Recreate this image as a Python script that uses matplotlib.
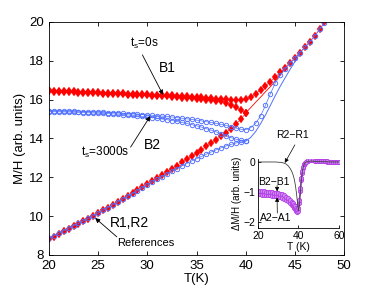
import numpy as np
import matplotlib
matplotlib.use('Agg')
import matplotlib.pyplot as plt

plt.rcParams['font.family'] = ['Liberation Sans', 'DejaVu Sans']
plt.rcParams['mathtext.fontset'] = 'custom'
plt.rcParams['mathtext.rm'] = 'Liberation Sans'
plt.rcParams['mathtext.it'] = 'Liberation Sans'

# ---- main panel data (T in K, M/H in arb. units) ----
T_full = np.arange(20, 48.01, 0.5)
T_low = np.arange(20, 40.01, 0.5)

red_fc = [16.47, 16.46, 16.45, 16.44, 16.43, 16.42, 16.41, 16.40, 16.39, 16.38,
          16.37, 16.36, 16.35, 16.34, 16.33, 16.32, 16.31, 16.30, 16.29, 16.28,
          16.27, 16.26, 16.25, 16.24, 16.23, 16.21, 16.20, 16.18, 16.17, 16.15,
          16.13, 16.11, 16.09, 16.07, 16.05, 16.03, 16.01, 15.99, 15.98, 15.98,
          16.02, 16.12, 16.30, 16.50, 16.70, 16.92, 17.15, 17.40, 17.65, 17.90,
          18.15, 18.42, 18.70, 18.98, 19.28, 19.62, 19.97]
red_b1 = [16.42, 16.41, 16.40, 16.39, 16.38, 16.37, 16.36, 16.35, 16.34, 16.33,
          16.32, 16.31, 16.30, 16.29, 16.28, 16.27, 16.26, 16.25, 16.23, 16.22,
          16.21, 16.20, 16.19, 16.17, 16.16, 16.14, 16.12, 16.10, 16.08, 16.06,
          16.04, 16.02, 16.00, 15.98, 15.95, 15.90, 15.82, 15.72, 15.60, 15.46,
          15.32]
red_r1 = [8.80, 8.94, 9.08, 9.21, 9.34, 9.47, 9.60, 9.73, 9.86, 10.00,
          10.14, 10.29, 10.44, 10.59, 10.74, 10.89, 11.04, 11.19, 11.34, 11.49,
          11.64, 11.80, 11.96, 12.12, 12.28, 12.44, 12.60, 12.76, 12.92, 13.08,
          13.25, 13.42, 13.59, 13.76, 13.93, 14.11, 14.30, 14.50, 14.72, 14.98,
          15.30]
T_red_line = [40, 40.5, 41, 41.5, 42, 42.5, 43, 43.5, 44]
red_line = [15.32, 15.58, 15.86, 16.12, 16.40, 16.66, 16.95, 17.28, 17.65]

blue_up = [15.42, 15.41, 15.41, 15.40, 15.40, 15.39, 15.38, 15.38, 15.37, 15.36,
           15.35, 15.34, 15.33, 15.32, 15.31, 15.29, 15.28, 15.26, 15.25, 15.23,
           15.21, 15.19, 15.17, 15.15, 15.13, 15.10, 15.07, 15.04, 15.01, 14.98,
           14.94, 14.90, 14.86, 14.82, 14.77, 14.72, 14.67, 14.60, 14.53, 14.47,
           14.45, 14.55, 14.78, 15.15, 15.70, 16.30, 16.85, 17.25, 17.58, 17.88,
           18.14, 18.41, 18.69, 18.97, 19.27, 19.61, 19.96]
blue_b2 = [15.38, 15.37, 15.37, 15.36, 15.36, 15.35, 15.34, 15.33, 15.32, 15.31,
           15.30, 15.29, 15.28, 15.26, 15.25, 15.23, 15.21, 15.19, 15.16, 15.13,
           15.10, 15.07, 15.04, 15.00, 14.96, 14.92, 14.87, 14.82, 14.77, 14.71,
           14.65, 14.58, 14.50, 14.42, 14.33, 14.24, 14.14, 14.04, 13.96, 13.90,
           13.86]
blue_r2 = [8.85, 8.98, 9.11, 9.24, 9.37, 9.50, 9.62, 9.75, 9.88, 10.01,
           10.15, 10.29, 10.44, 10.58, 10.73, 10.87, 11.02, 11.16, 11.31, 11.45,
           11.60, 11.74, 11.89, 12.03, 12.17, 12.31, 12.44, 12.57, 12.70, 12.83,
           12.95, 13.07, 13.19, 13.30, 13.41, 13.51, 13.61, 13.69, 13.76, 13.82,
           13.86]
T_blue_line = [40, 40.5, 41, 41.5, 42, 42.5, 43, 43.5, 44, 44.5, 45, 45.5]
blue_line = [13.86, 14.05, 14.35, 14.75, 15.20, 15.70, 16.20, 16.68, 17.12, 17.55, 17.95, 18.38]

# ---- inset data ----
T_in = [20, 21, 22, 23, 24, 25, 26, 27, 28, 29, 30, 31, 32, 33, 34, 35, 36, 37,
        37.5, 38, 38.5, 39, 39.5, 40, 40.5, 41, 41.5, 42, 42.5, 43, 43.5, 44,
        45, 46, 47, 48, 49, 50, 51, 52, 53, 54, 55, 56, 57, 58, 59, 60]
d_b = [-0.97, -0.97, -0.98, -0.98, -0.99, -0.99, -1.00, -1.01, -1.02, -1.03, -1.04, -1.06,
       -1.08, -1.11, -1.15, -1.20, -1.26, -1.33,
       -1.37, -1.42, -1.47, -1.52, -1.56, -1.52, -1.25, -0.85, -0.52, -0.30, -0.16, -0.07,
       -0.02, 0.01,
       0.05, 0.06, 0.05, 0.04, 0.04, 0.03, 0.03, 0.02, 0.02, 0.02, 0.01, 0.01, 0.01, 0.0, 0.0, 0.0]
d_a = [-1.08, -1.08, -1.09, -1.09, -1.10, -1.10, -1.11, -1.12, -1.13, -1.14, -1.15, -1.17,
       -1.19, -1.22, -1.26, -1.31, -1.37, -1.44,
       -1.48, -1.53, -1.58, -1.63, -1.67, -1.63, -1.35, -0.95, -0.60, -0.36, -0.21, -0.11,
       -0.05, -0.01,
       0.03, 0.05, 0.05, 0.04, 0.03, 0.03, 0.02, 0.02, 0.02, 0.01, 0.01, 0.01, 0.0, 0.0, 0.0, 0.0]
d_r = [0.0, 0.0, 0.0, 0.0, 0.0, 0.0, 0.0, 0.0, 0.0, 0.0, -0.01, -0.01,
       -0.02, -0.04, -0.07, -0.13, -0.22, -0.35,
       -0.45, -0.58, -0.76, -1.00, -1.30, -1.62, -1.45, -1.00, -0.60, -0.32, -0.15, -0.06,
       -0.02, 0.0,
       0.02, 0.03, 0.03, 0.02, 0.02, 0.02, 0.01, 0.01, 0.01, 0.01, 0.0, 0.0, 0.0, 0.0, 0.0, 0.0]

red = '#ff0000'
blue = '#5070ff'
purple = '#b43ce6'

fig = plt.figure(figsize=(3.82, 2.88), dpi=100)
ax = fig.add_axes([0.128, 0.115, 0.773, 0.809])

dkw = dict(color=red, marker='d', markersize=4.3, lw=0.4, mec=red, mfc=red, mew=0.2)
ax.plot(T_full, red_fc, **dkw)
ax.plot(T_low, red_b1, **dkw)
ax.plot(T_low, red_r1, **dkw)
ax.plot(T_red_line, red_line, color=red, lw=0.6)

ckw = dict(color=blue, marker='o', markersize=3.2, lw=0.5, mfc='none', mew=0.65)
ax.plot(T_full, blue_up, **ckw)
ax.plot(T_low, blue_b2, **ckw)
ax.plot(T_low, blue_r2, **ckw)
ax.plot(T_blue_line, blue_line, color=blue, lw=0.7)

ax.set_xlim(20, 50)
ax.set_ylim(8, 20)
ax.set_xticks([20, 25, 30, 35, 40, 45, 50])
ax.set_yticks([8, 10, 12, 14, 16, 18, 20])
ax.tick_params(direction='in', top=True, right=True, labelsize=9.5, length=3, width=0.6)
for s in ax.spines.values():
    s.set_linewidth(0.6)
ax.set_xlabel('T(K)', fontsize=9.5, labelpad=1)
ax.set_ylabel('M/H (arb. units)', fontsize=9.5, labelpad=2)

akw = dict(arrowstyle='-|>', color='k', lw=0.6, mutation_scale=7, shrinkA=0, shrinkB=0)
ax.text(29.7, 18.9, r't$_{\rm s}$=0s', fontsize=8.5, ha='center', va='center')
ax.annotate('', xy=(31.6, 16.24), xytext=(29.5, 18.3), arrowprops=akw)
ax.text(32.0, 17.65, 'B1', fontsize=10, ha='center', va='center')
ax.text(25.7, 13.3, r't$_{\rm s}$=3000s', fontsize=8.5, ha='center', va='center')
ax.annotate('', xy=(30.3, 15.15), xytext=(28.3, 13.55), arrowprops=akw)
ax.text(30.5, 13.67, 'B2', fontsize=10, ha='center', va='center')
ax.text(26.2, 9.65, 'R1,R2', fontsize=10, ha='left', va='center')
ax.text(29.8, 8.62, 'References', fontsize=8, ha='center', va='center')
ax.annotate('', xy=(24.7, 9.9), xytext=(26.9, 8.93), arrowprops=akw)

# ---- inset ----
ai = fig.add_axes([0.675, 0.208, 0.212, 0.24])
ai.patch.set_alpha(0)
ai.plot(T_in, d_a, color=purple, marker='o', markersize=3, lw=0.8, mfc='#cf8cf2', mew=0.6)
ai.plot(T_in, d_b, color=purple, marker='o', markersize=3, lw=0.8, mfc='#cf8cf2', mew=0.6)
ai.plot(T_in, d_r, color='#404040', lw=0.6)
ai.set_xlim(20, 60)
ai.set_ylim(-2.2, 0.1)
ai.set_xticks([20, 40, 60])
ai.set_yticks([0, -1, -2])
ai.spines['top'].set_visible(False)
ai.spines['right'].set_visible(False)
for s in ai.spines.values():
    s.set_linewidth(0.6)
ai.tick_params(direction='in', labelsize=7.5, length=2.5, width=0.6, pad=2)
ai.set_xlabel('T (K)', fontsize=7.5, labelpad=1)
ai.set_ylabel('\u0394M/H (arb. units)', fontsize=7, labelpad=1)

ikw = dict(arrowstyle='-|>', color='k', lw=0.5, mutation_scale=6, shrinkA=0, shrinkB=0)
ai.text(37.3, 0.9, 'R2\u2212R1', fontsize=7.5, ha='center', va='center')
ai.annotate('', xy=(33.3, -0.03), xytext=(38.3, 0.57), arrowprops=ikw,
            annotation_clip=False)
ai.text(27.9, -0.66, 'B2\u2212B1', fontsize=7.5, ha='center', va='center')
ai.annotate('', xy=(29.5, -0.98), xytext=(29.5, -0.78), arrowprops=ikw)
ai.text(28.9, -1.87, 'A2\u2212A1', fontsize=7.5, ha='center', va='center')
ai.annotate('', xy=(29.5, -1.18), xytext=(29.6, -1.70), arrowprops=ikw)

fig.savefig('out.png', dpi=100)
